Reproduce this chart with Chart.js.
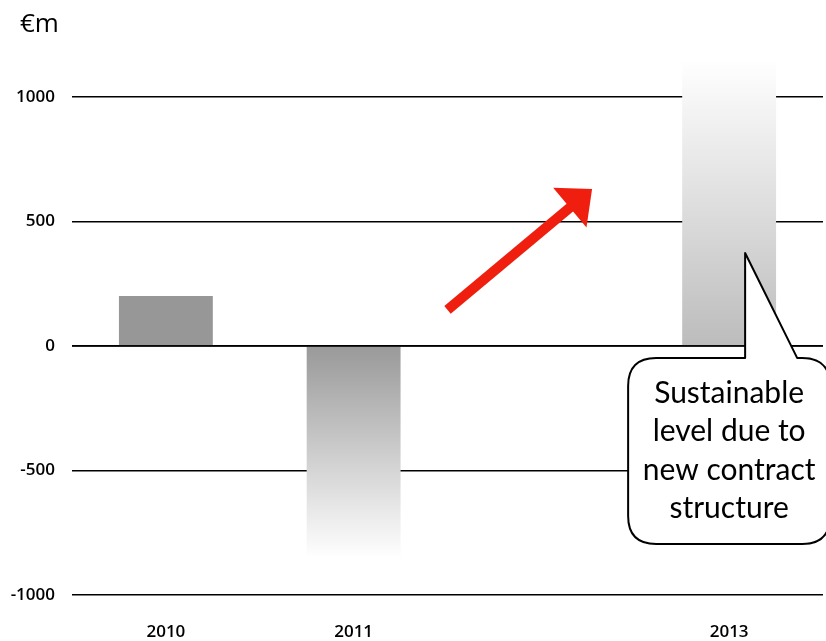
<!DOCTYPE html>
<html>
<head>
<meta charset="utf-8">
<script src="https://cdn.jsdelivr.net/npm/chart.js@4"></script>
<style>
  html, body { margin: 0; padding: 0; background: #fff; }
  #wrap { position: relative; width: 826px; height: 641px; }
  #unit { position: absolute; left: 20px; top: 4px; font: 26px "Open Sans", sans-serif; color: #000; }
</style>
</head>
<body>
<div id="wrap">
  <canvas id="myChart"></canvas>
  <div id="unit">€m</div>
</div>
<script>
const categories = ['2010', '2011', '2012', '2013'];
const tickLabels = ['2010', '2011', '', '2013'];
const values = [200, -850, null, 1150];
const yTicks = [-1000, -500, 0, 500, 1000];
const note = ['Sustainable', 'level due to', 'new contract', 'structure'];

function barFill(context) {
  const chart = context.chart;
  const v = values[context.dataIndex];
  if (!chart.chartArea || v == null || context.dataIndex === 0) return '#979797';
  const y = chart.scales.y;
  const y0 = y.getPixelForValue(0);
  const yv = y.getPixelForValue(v);
  if (!isFinite(y0) || !isFinite(yv)) return '#979797';
  const g = chart.ctx.createLinearGradient(0, yv, 0, y0);
  if (v < 0) {
    g.addColorStop(0, '#ffffff');
    g.addColorStop(1, '#999999');
  } else {
    g.addColorStop(0, '#ffffff');
    g.addColorStop(0.45, '#e2e2e2');
    g.addColorStop(1, '#bcbcbc');
  }
  return g;
}

const overlay = {
  id: 'overlay',
  afterDatasetsDraw(chart) {
    const { ctx, chartArea } = chart;
    const x = chart.scales.x, y = chart.scales.y;
    const y0 = y.getPixelForValue(0);

    // zero line over the bars
    ctx.save();
    ctx.strokeStyle = '#000';
    ctx.lineWidth = 1.5;
    ctx.beginPath();
    ctx.moveTo(chartArea.left, y0);
    ctx.lineTo(chartArea.right, y0);
    ctx.stroke();

    // red arrow
    const sx = x.getPixelForValue(1.5), sy = y.getPixelForValue(145);
    const tx = x.getPixelForValue(2.27), ty = y.getPixelForValue(630);
    const len = Math.hypot(tx - sx, ty - sy);
    const ux = (tx - sx) / len, uy = (ty - sy) / len;
    const headL = 29, headW = 26;
    const bx = tx - ux * headL, by = ty - uy * headL;
    ctx.strokeStyle = '#f01e0e';
    ctx.fillStyle = '#f01e0e';
    ctx.lineWidth = 10;
    ctx.beginPath();
    ctx.moveTo(sx, sy);
    ctx.lineTo(bx + ux * 2, by + uy * 2);
    ctx.stroke();
    ctx.beginPath();
    ctx.moveTo(tx, ty);
    ctx.lineTo(bx - uy * headW, by + ux * headW);
    ctx.lineTo(bx + uy * headW, by - ux * headW);
    ctx.closePath();
    ctx.fill();

    // callout
    const cx = x.getPixelForValue(3);
    const L = cx - 101, R = cx + 101, T = y0 + 12, B = y0 + 198, r = 28;
    const tl = cx + 16, tr = cx + 68, tipY = y.getPixelForValue(373);
    ctx.beginPath();
    ctx.moveTo(L + r, T);
    ctx.lineTo(tl, T);
    ctx.lineTo(tl, tipY);
    ctx.lineTo(tr, T);
    ctx.lineTo(R - r, T);
    ctx.quadraticCurveTo(R, T, R, T + r);
    ctx.lineTo(R, B - r);
    ctx.quadraticCurveTo(R, B, R - r, B);
    ctx.lineTo(L + r, B);
    ctx.quadraticCurveTo(L, B, L, B - r);
    ctx.lineTo(L, T + r);
    ctx.quadraticCurveTo(L, T, L + r, T);
    ctx.closePath();
    ctx.fillStyle = '#fff';
    ctx.fill();
    ctx.strokeStyle = '#000';
    ctx.lineWidth = 2;
    ctx.lineJoin = 'round';
    ctx.stroke();

    ctx.fillStyle = '#000';
    ctx.font = '30px Lato, sans-serif';
    ctx.textAlign = 'center';
    ctx.textBaseline = 'middle';
    note.forEach((line, i) => ctx.fillText(line, cx, y0 + 47 + i * 38.5));
    ctx.restore();
  }
};

const ctx = document.getElementById('myChart').getContext('2d');
new Chart(ctx, {
  type: 'bar',
  data: {
    labels: categories,
    datasets: [{
      data: values,
      backgroundColor: barFill,
      borderWidth: 0,
      barPercentage: 0.5,
      categoryPercentage: 1.0
    }]
  },
  options: {
    responsive: true,
    maintainAspectRatio: false,
    animation: false,
    layout: { padding: { top: 47, right: 3, left: 0, bottom: 0 } },
    plugins: {
      legend: { display: false },
      tooltip: { enabled: false }
    },
    scales: {
      x: {
        grid: { display: false },
        border: { display: false },
        ticks: {
          padding: 19,
          color: '#000',
          font: { family: 'Open Sans', size: 17, weight: '600' },
          callback: (v, i) => tickLabels[i]
        },
        afterFit: (scale) => { scale.height = 46; }
      },
      y: {
        min: -1000,
        max: 1200,
        afterBuildTicks: (scale) => { scale.ticks = yTicks.map(v => ({ value: v })); },
        grid: { color: '#000', lineWidth: 1.5, drawTicks: false },
        border: { display: false },
        ticks: {
          padding: 17,
          color: '#000',
          font: { family: 'Open Sans', size: 17, weight: '600' },
          callback: (v) => String(v)
        },
        afterFit: (scale) => { scale.width = 72; }
      }
    }
  },
  plugins: [overlay]
});
</script>
</body>
</html>
